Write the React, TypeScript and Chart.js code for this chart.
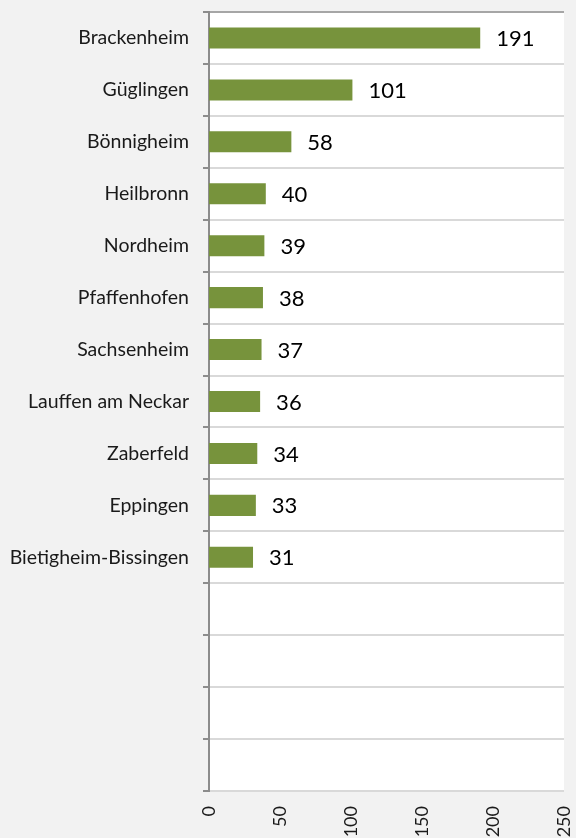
import React, { useEffect, useRef } from "react";
import { Chart, registerables } from "chart.js";

Chart.register(...registerables);

const categories = [
  "Brackenheim",
  "Güglingen",
  "Bönnigheim",
  "Heilbronn",
  "Nordheim",
  "Pfaffenhofen",
  "Sachsenheim",
  "Lauffen am Neckar",
  "Zaberfeld",
  "Eppingen",
  "Bietigheim-Bissingen",
  "",
  "",
  "",
  "",
];
const values: (number | null)[] = [191, 101, 58, 40, 39, 38, 37, 36, 34, 33, 31, null, null, null, null];
const xTicks = [0, 50, 100, 150, 200, 250];

const FONT = "Lato, 'Open Sans', sans-serif";

const valueLabels = {
  id: "valueLabels",
  afterDatasetsDraw(chart: any) {
    const ctx = chart.ctx;
    const meta = chart.getDatasetMeta(0);
    ctx.save();
    ctx.font = `22px ${FONT}`;
    ctx.fillStyle = "#000000";
    ctx.textAlign = "left";
    ctx.textBaseline = "middle";
    meta.data.forEach((el: any, i: number) => {
      const v = values[i];
      if (v == null) return;
      ctx.fillText(String(v), el.x + 16, el.y + 1);
    });
    ctx.restore();
  },
};

const plotBg = {
  id: "plotBg",
  beforeDraw(chart: any) {
    const { ctx, chartArea } = chart;
    ctx.save();
    ctx.fillStyle = "#f2f2f2";
    ctx.fillRect(0, 0, chart.width, chart.height);
    ctx.fillStyle = "#ffffff";
    ctx.fillRect(chartArea.left, chartArea.top, chartArea.right - chartArea.left, chartArea.bottom - chartArea.top);
    ctx.restore();
  },
};

function zeroPad(scale: any) {
  scale.paddingTop = 0;
  scale.paddingBottom = 0;
  scale.paddingLeft = 0;
  scale.paddingRight = 0;
}

export default function App() {
  const ref = useRef<HTMLCanvasElement>(null);
  useEffect(() => {
    if (!ref.current) return;
    const chart = new Chart(ref.current, {
      type: "bar",
      data: {
        labels: categories,
        datasets: [
          {
            data: values as any,
            backgroundColor: "#77933c",
            borderWidth: 0,
            categoryPercentage: 1,
            barPercentage: 0.405,
          },
        ],
      },
      options: {
        indexAxis: "y",
        responsive: false,
        animation: false,
        layout: { autoPadding: false, padding: { top: 12, right: 12, left: 0, bottom: 0 } } as any,
        plugins: { legend: { display: false }, tooltip: { enabled: false } },
        scales: {
          x: {
            min: 0,
            max: 250,
            afterBuildTicks(scale: any) {
              scale.ticks = xTicks.map((v) => ({ value: v }));
            },
            afterFit(scale: any) {
              scale.height = 47;
              zeroPad(scale);
            },
            grid: { display: false, drawTicks: false },
            border: { display: false },
            ticks: {
              minRotation: 90,
              maxRotation: 90,
              padding: 15,
              color: "#1a1a1a",
              font: { family: FONT, size: 18 },
            },
          },
          y: {
            afterFit(scale: any) {
              scale.width = 209;
              zeroPad(scale);
            },
            grid: {
              offset: true,
              color: (c: any) => (c.index === 0 ? "#a6a6a6" : "#d9d9d9"),
              lineWidth: 2,
              tickColor: "#8c8c8c",
              tickLength: 6,
            },
            border: { display: true, color: "#8c8c8c", width: 2 },
            ticks: {
              padding: 14,
              color: "#1a1a1a",
              font: { family: FONT, size: 19.5 },
              autoSkip: false,
            },
          },
        },
      },
      plugins: [plotBg, valueLabels],
    });
    return () => chart.destroy();
  }, []);
  return (
    <div style={{ position: "fixed", left: 0, top: 0, width: 576, height: 838, background: "#f2f2f2" }}>
      <canvas ref={ref} width={576} height={838} style={{ display: "block" }} />
    </div>
  );
}
